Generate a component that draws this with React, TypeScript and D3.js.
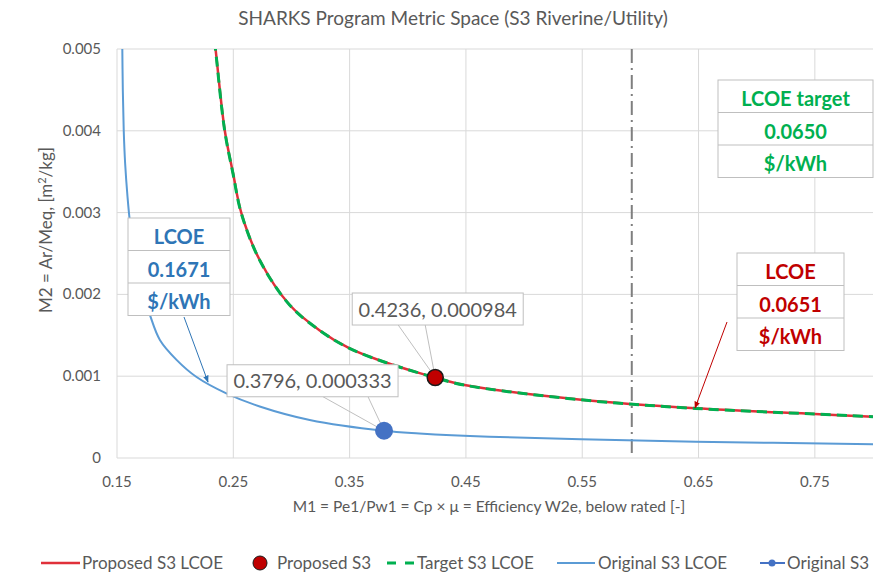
import React, { useRef, useEffect } from "react";
import * as d3 from "d3";

// Proposed S3 LCOE curve
const proposedX = [0.234, 0.2355, 0.2427, 0.2498, 0.257, 0.2727, 0.2985, 0.3243, 0.35, 0.3786, 0.4073, 0.4236, 0.4487, 0.549, 0.6476, 0.75, 0.8];
const proposedY = [0.0051, 0.0049, 0.004, 0.00348, 0.00299, 0.00242, 0.00187, 0.00156, 0.00134, 0.00118, 0.00105, 0.000984, 0.000892, 0.000712, 0.000607, 0.000538, 0.000505];

// Target S3 LCOE curve (almost on top of the proposed one)
const targetX = [0.2339, 0.2354, 0.2426, 0.2497, 0.2569, 0.2726, 0.2984, 0.3242, 0.3499, 0.3785, 0.4072, 0.4235, 0.4486, 0.5489, 0.6475, 0.7499, 0.8];
const targetY = [0.0051, 0.0049, 0.004, 0.00348, 0.00299, 0.00242, 0.00187, 0.00156, 0.00134, 0.00118, 0.00105, 0.000983, 0.000891, 0.000711, 0.000606, 0.000537, 0.000504];

// Original S3 LCOE curve
const originalX = [0.1545, 0.155, 0.1558, 0.157, 0.159, 0.161, 0.165, 0.171, 0.1783, 0.187, 0.2012, 0.2184, 0.244, 0.2727, 0.3157, 0.3796, 0.41, 0.47, 0.549, 0.6476, 0.8];
const originalY = [0.0051, 0.0045, 0.004, 0.0036, 0.0032, 0.0029, 0.0025, 0.0021, 0.00175, 0.00144, 0.0012, 0.00099, 0.00079, 0.00063, 0.000465, 0.000333, 0.000301, 0.00026, 0.000228, 0.0002, 0.000167];

// design points
const proposedPoint = [0.4236, 0.000984];
const originalPoint = [0.3796, 0.000333];
const betzLimit = 0.5926;

const xTicks = [0.15, 0.25, 0.35, 0.45, 0.55, 0.65, 0.75];
const yTicks = [0, 0.001, 0.002, 0.003, 0.004, 0.005];

const originalBox = ["LCOE", "0.1671", "$/kWh"];
const proposedBox = ["LCOE", "0.0651", "$/kWh"];
const targetBox = ["LCOE target", "0.0650", "$/kWh"];

const legendItems = ["Proposed S3 LCOE", "Proposed S3", "Target S3 LCOE", "Original S3 LCOE", "Original S3"];

const RED = "#C00000";
const LINE_RED = "#E0303A";
const GREEN = "#00B050";
const BLUE = "#5B9BD5";
const BLUE_DOT = "#4472C4";
const BLUE_TEXT = "#2E75B6";
const GREY_TEXT = "#595959";
const GRID = "#D9D9D9";
const FONT = "Lato, 'Open Sans', sans-serif";

const App = () => {
  const svgRef = useRef<SVGSVGElement>(null);

  useEffect(() => {
    const svg = d3.select(svgRef.current);
    svg.selectAll("*").remove();

    const width = 887;
    const height = 574;
    const margin = { top: 49, right: 14, bottom: 116, left: 117 };

    const x = d3.scaleLinear().domain([0.15, 0.8]).range([margin.left, width - margin.right]);
    const y = d3.scaleLinear().domain([0, 0.005]).range([height - margin.bottom, margin.top]);

    svg.style("font-family", FONT);

    const defs = svg.append("defs");
    defs
      .append("clipPath")
      .attr("id", "plot-clip")
      .append("rect")
      .attr("x", margin.left)
      .attr("y", margin.top)
      .attr("width", width - margin.left - margin.right)
      .attr("height", height - margin.top - margin.bottom);

    const arrow = (id: string, color: string) =>
      defs
        .append("marker")
        .attr("id", id)
        .attr("viewBox", "0 0 10 10")
        .attr("refX", 9)
        .attr("refY", 5)
        .attr("markerWidth", 7)
        .attr("markerHeight", 7)
        .attr("orient", "auto")
        .append("path")
        .attr("d", "M0,1 L10,5 L0,9 Z")
        .attr("fill", color);
    arrow("arrow-blue", BLUE_TEXT);
    arrow("arrow-red", RED);

    // Title
    svg
      .append("text")
      .attr("x", 453)
      .attr("y", 25)
      .attr("text-anchor", "middle")
      .style("font-size", "19px")
      .style("fill", GREY_TEXT)
      .text("SHARKS Program Metric Space (S3 Riverine/Utility)");

    // Grid
    svg
      .append("g")
      .selectAll("line")
      .data(yTicks)
      .join("line")
      .attr("x1", margin.left)
      .attr("x2", width - margin.right)
      .attr("y1", (d) => y(d))
      .attr("y2", (d) => y(d))
      .attr("stroke", GRID)
      .attr("stroke-width", 1);

    svg
      .append("g")
      .selectAll("line")
      .data(xTicks)
      .join("line")
      .attr("x1", (d) => x(d))
      .attr("x2", (d) => x(d))
      .attr("y1", margin.top)
      .attr("y2", height - margin.bottom)
      .attr("stroke", GRID)
      .attr("stroke-width", 1);

    // Tick labels
    svg
      .append("g")
      .selectAll("text")
      .data(yTicks)
      .join("text")
      .attr("x", margin.left - 16)
      .attr("y", (d) => y(d) + 5)
      .attr("text-anchor", "end")
      .style("font-size", "15px")
      .style("fill", GREY_TEXT)
      .text((d) => (d === 0 ? "0" : d3.format(".3f")(d)));

    svg
      .append("g")
      .selectAll("text")
      .data(xTicks)
      .join("text")
      .attr("x", (d) => x(d))
      .attr("y", y(0) + 29)
      .attr("text-anchor", "middle")
      .style("font-size", "15px")
      .style("fill", GREY_TEXT)
      .text((d) => d3.format(".2f")(d));

    // Axis titles
    svg
      .append("text")
      .attr("x", 489)
      .attr("y", y(0) + 54)
      .attr("text-anchor", "middle")
      .style("font-size", "15.5px")
      .style("fill", GREY_TEXT)
      .text("M1 = Pe1/Pw1 = Cp × μ = Efficiency W2e, below rated [-]");

    const yTitle = svg
      .append("text")
      .attr("transform", `translate(52,230) rotate(-90)`)
      .attr("text-anchor", "middle")
      .style("font-size", "17px")
      .style("fill", GREY_TEXT);
    yTitle.append("tspan").text("M2 = Ar/Meq, [m");
    yTitle.append("tspan").attr("dy", -6).style("font-size", "11px").text("2");
    yTitle.append("tspan").attr("dy", 6).text("/kg]");

    // Betz limit
    svg
      .append("line")
      .attr("x1", x(betzLimit))
      .attr("x2", x(betzLimit))
      .attr("y1", margin.top)
      .attr("y2", y(0))
      .attr("stroke", "#7F7F7F")
      .attr("stroke-width", 2)
      .attr("stroke-dasharray", "14,5,2,5");

    const plot = svg.append("g").attr("clip-path", "url(#plot-clip)");

    const line = d3.line<number>().curve(d3.curveCatmullRom.alpha(0.5));

    const path = (xs: number[], ys: number[]) =>
      line.x((_, i) => x(xs[i])).y((_, i) => y(ys[i]))(xs);

    plot
      .append("path")
      .attr("d", path(originalX, originalY))
      .attr("fill", "none")
      .attr("stroke", BLUE)
      .attr("stroke-width", 2);

    plot
      .append("path")
      .attr("d", path(proposedX, proposedY))
      .attr("fill", "none")
      .attr("stroke", LINE_RED)
      .attr("stroke-width", 2.5);

    plot
      .append("path")
      .attr("d", path(targetX, targetY))
      .attr("fill", "none")
      .attr("stroke", GREEN)
      .attr("stroke-width", 3)
      .attr("stroke-dasharray", "10,6");

    // Boxes
    const tableBox = (
      left: number,
      top: number,
      w: number,
      rowH: number,
      rows: string[],
      color: string
    ) => {
      const g = svg.append("g");
      g.append("rect")
        .attr("x", left)
        .attr("y", top)
        .attr("width", w)
        .attr("height", rowH * rows.length)
        .attr("fill", "white")
        .attr("stroke", "#BFBFBF");
      rows.forEach((r, i) => {
        if (i > 0)
          g.append("line")
            .attr("x1", left)
            .attr("x2", left + w)
            .attr("y1", top + rowH * i)
            .attr("y2", top + rowH * i)
            .attr("stroke", "#BFBFBF");
        g.append("text")
          .attr("x", left + w / 2)
          .attr("y", top + rowH * i + rowH / 2 + 10)
          .attr("text-anchor", "middle")
          .style("font-size", "20px")
          .style("font-weight", "bold")
          .style("fill", color)
          .text(r);
      });
    };

    const callout = (
      px: number,
      py: number,
      left: number,
      top: number,
      w: number,
      h: number,
      a: number,
      b: number,
      label: string
    ) => {
      const g = svg.append("g");
      g.append("path")
        .attr("d", `M${left + a},${top + h} L${px},${py} L${left + b},${top + h}`)
        .attr("fill", "none")
        .attr("stroke", "#BFBFBF");
      g.append("rect")
        .attr("x", left)
        .attr("y", top)
        .attr("width", w)
        .attr("height", h)
        .attr("fill", "white")
        .attr("stroke", "#BFBFBF");
      g.append("text")
        .attr("x", left + w / 2)
        .attr("y", top + h / 2 + 7.5)
        .attr("text-anchor", "middle")
        .style("font-size", "20px")
        .style("fill", GREY_TEXT)
        .text(label);
    };

    const ppx = x(proposedPoint[0]);
    const ppy = y(proposedPoint[1]);
    const opx = x(originalPoint[0]);
    const opy = y(originalPoint[1]);

    callout(ppx, ppy, ppx - 83, ppy - 84.5, 171, 32, 46, 73, `${proposedPoint[0]}, ${proposedPoint[1]}`);
    callout(opx, opy, opx - 157, opy - 66, 171, 32, 96, 141, `${originalPoint[0]}, ${originalPoint[1].toFixed(6)}`);

    // Points
    svg
      .append("circle")
      .attr("cx", ppx)
      .attr("cy", ppy)
      .attr("r", 8)
      .attr("fill", RED)
      .attr("stroke", "#1a1a1a")
      .attr("stroke-width", 1.5);
    svg
      .append("circle")
      .attr("cx", opx)
      .attr("cy", opy)
      .attr("r", 9)
      .attr("fill", BLUE_DOT);

    // LCOE tables
    tableBox(128, 218, 102, 32.5, originalBox, BLUE_TEXT);
    tableBox(718, 80, 155, 32.5, targetBox, GREEN);
    tableBox(737, 253, 107, 32.5, proposedBox, RED);

    svg
      .append("line")
      .attr("x1", 184)
      .attr("y1", 317)
      .attr("x2", 208)
      .attr("y2", 382)
      .attr("stroke", BLUE_TEXT)
      .attr("stroke-width", 1)
      .attr("marker-end", "url(#arrow-blue)");
    svg
      .append("line")
      .attr("x1", 727)
      .attr("y1", 322)
      .attr("x2", 695)
      .attr("y2", 408)
      .attr("stroke", RED)
      .attr("stroke-width", 1)
      .attr("marker-end", "url(#arrow-red)");

    // Legend
    const ly = 563;
    const lg = svg.append("g").style("font-size", "17px").style("fill", GREY_TEXT);
    const item = (sx: number, label: string, draw: (g: any) => void) => {
      const g = lg.append("g");
      draw(g);
      g.append("text").attr("x", sx).attr("y", ly + 6).style("fill", GREY_TEXT).text(label);
    };
    item(82, legendItems[0], (g) =>
      g.append("line").attr("x1", 41).attr("x2", 80).attr("y1", ly).attr("y2", ly).attr("stroke", LINE_RED).attr("stroke-width", 2.5)
    );
    item(277, legendItems[1], (g) =>
      g.append("circle").attr("cx", 260).attr("cy", ly).attr("r", 7).attr("fill", RED).attr("stroke", "#1a1a1a")
    );
    item(417, legendItems[2], (g) =>
      g.append("line").attr("x1", 387).attr("x2", 414).attr("y1", ly).attr("y2", ly).attr("stroke", GREEN).attr("stroke-width", 3).attr("stroke-dasharray", "9,9")
    );
    item(598, legendItems[3], (g) =>
      g.append("line").attr("x1", 557).attr("x2", 595).attr("y1", ly).attr("y2", ly).attr("stroke", BLUE).attr("stroke-width", 2)
    );
    item(787, legendItems[4], (g) => {
      g.append("line").attr("x1", 760).attr("x2", 785).attr("y1", ly).attr("y2", ly).attr("stroke", BLUE_DOT).attr("stroke-width", 2);
      g.append("circle").attr("cx", 772).attr("cy", ly).attr("r", 3.5).attr("fill", BLUE_DOT);
    });
  }, []);

  return (
    <svg
      ref={svgRef}
      width={887}
      height={574}
      style={{ position: "absolute", left: 0, top: 0, background: "white" }}
    ></svg>
  );
};

export default App;
